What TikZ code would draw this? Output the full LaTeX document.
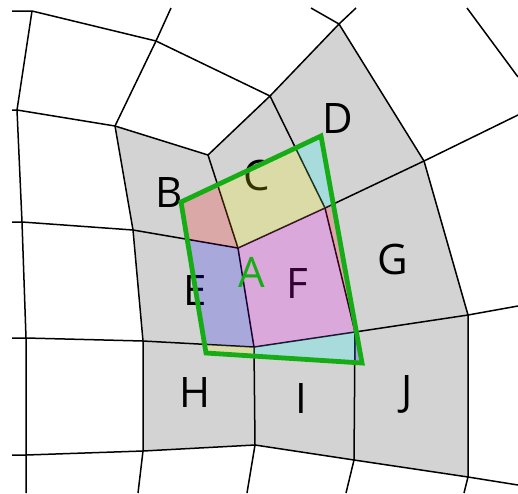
\documentclass[tikz,border=0pt]{standalone}
\usepackage{fontspec}
\setmainfont{Open Sans}
\definecolor{cellgray}{RGB}{211,211,211}
\definecolor{agreen}{RGB}{22,172,22}
\definecolor{tred}{RGB}{255,0,0}
\definecolor{tyellow}{RGB}{255,255,0}
\definecolor{tcyan}{RGB}{0,255,255}
\definecolor{tblue}{RGB}{0,0,255}
\definecolor{tmagenta}{RGB}{255,0,255}
\begin{document}
\begin{tikzpicture}[x=1pt,y=-1pt,
  mesh/.style={line width=1.5pt, black},
  tint/.style={opacity=0.2},
  lbl/.style={anchor=base, inner sep=0pt, font=\fontsize{42}{42}\selectfont},
  outline/.style={draw=agreen, line width=4.8pt, line join=miter}]
\useasboundingbox (0,0) rectangle (518,493);
% mesh vertices
\coordinate (p1) at (32,11);
\coordinate (p2) at (156,41);
\coordinate (p3) at (17,110);
\coordinate (p4) at (115,126);
\coordinate (p5) at (208,155);
\coordinate (p6) at (270,96);
\coordinate (p7) at (339,24);
\coordinate (p8) at (424,161);
\coordinate (p9) at (22,222);
\coordinate (p10) at (133,230);
\coordinate (p11) at (238,248);
\coordinate (p12) at (325,208);
\coordinate (p13) at (26,338);
\coordinate (p14) at (143,341);
\coordinate (p15) at (254,347);
\coordinate (p16) at (355,332);
\coordinate (p17) at (468,315);
\coordinate (p18) at (26,455);
\coordinate (p19) at (143,451);
\coordinate (p20) at (255,445);
\coordinate (p21) at (354,460);
\coordinate (p22) at (468,477);
% border ends
\coordinate (e1) at (12,11);
\coordinate (e2) at (171,8);
\coordinate (e3) at (12,110);
\coordinate (e4) at (311,8);
\coordinate (e5) at (356,8);
\coordinate (e6) at (518,115);
\coordinate (e7) at (467,8);
\coordinate (e8) at (518,77);
\coordinate (e9) at (12,222);
\coordinate (e10) at (518,306);
\coordinate (e11) at (12,338);
\coordinate (e12) at (518,485);
\coordinate (e13) at (12,455);
\coordinate (e14) at (26,493);
\coordinate (e15) at (138,493);
\coordinate (e16) at (247,493);
\coordinate (e17) at (346,493);
\coordinate (e18) at (464,493);
% green quad corners
\coordinate (a1) at (181,202);
\coordinate (a2) at (321,136);
\coordinate (a3) at (362,363);
\coordinate (a4) at (206,353);
% gray cells
\fill[cellgray] (p4)--(p5)--(p11)--(p10)--cycle;
\fill[cellgray] (p5)--(p6)--(p12)--(p11)--cycle;
\fill[cellgray] (p6)--(p7)--(p8)--(p12)--cycle;
\fill[cellgray] (p10)--(p11)--(p15)--(p14)--cycle;
\fill[cellgray] (p11)--(p12)--(p16)--(p15)--cycle;
\fill[cellgray] (p12)--(p8)--(p17)--(p16)--cycle;
\fill[cellgray] (p14)--(p15)--(p20)--(p19)--cycle;
\fill[cellgray] (p15)--(p16)--(p21)--(p20)--cycle;
\fill[cellgray] (p16)--(p17)--(p22)--(p21)--cycle;
% mesh edges
\draw[mesh] (e1)--(p1)--(p2)--(e2);
\draw[mesh] (p2)--(p6);
\draw[mesh] (p2)--(p4);
\draw[mesh] (p1)--(p3)--(p9)--(p13)--(p18)--(e14);
\draw[mesh] (e3)--(p3)--(p4)--(p5)--(p6)--(p7)--(e5);
\draw[mesh] (p4)--(p10)--(p14)--(p19)--(e15);
\draw[mesh] (p5)--(p11)--(p15)--(p20)--(e16);
\draw[mesh] (p6)--(p12)--(p16)--(p21)--(e17);
\draw[mesh] (e4)--(p7)--(p8)--(p17)--(p22)--(e18);
\draw[mesh] (p8)--(e6);
\draw[mesh] (e7)--(e8);
\draw[mesh] (e9)--(p9)--(p10)--(p11)--(p12)--(p8);
\draw[mesh] (e11)--(p13)--(p14)--(p15)--(p16)--(p17)--(e10);
\draw[mesh] (e13)--(p18)--(p19)--(p20)--(p21)--(p22)--(e12);
% labels
\node[lbl] (lB) at (169,207) {B};
\node[lbl] (lC) at (257,190) {C};
\node[lbl] (lD) at (338,133) {D};
\node[lbl] (lE) at (195,305) {E};
\node[lbl] (lF) at (297,298) {F};
\node[lbl] (lG) at (393,274) {G};
\node[lbl] (lH) at (195,407) {H};
\node[lbl] (lI) at (301,413) {I};
\node[lbl] (lJ) at (407,405) {J};
% tinted overlaps
\begin{scope}
\clip (a1)--(a2)--(a3)--(a4)--cycle;
\fill[tred,tint] (p4)--(p5)--(p11)--(p10)--cycle;
\fill[tyellow,tint] (p5)--(p6)--(p12)--(p11)--cycle;
\fill[tcyan,tint] (p6)--(p7)--(p8)--(p12)--cycle;
\fill[tblue,tint] (p10)--(p11)--(p15)--(p14)--cycle;
\fill[tmagenta,tint] (p11)--(p12)--(p16)--(p15)--cycle;
\fill[tred,tint] (p12)--(p8)--(p17)--(p16)--cycle;
\fill[tyellow,tint] (p14)--(p15)--(p20)--(p19)--cycle;
\fill[tcyan,tint] (p15)--(p16)--(p21)--(p20)--cycle;
\fill[tblue,tint] (p16)--(p17)--(p22)--(p21)--cycle;
\end{scope}
% green outline
\draw[outline] (a1)--(a2)--(a3)--(a4)--cycle;
\node[lbl, text=agreen] (lA) at (252,287) {A};
\end{tikzpicture}
\end{document}
